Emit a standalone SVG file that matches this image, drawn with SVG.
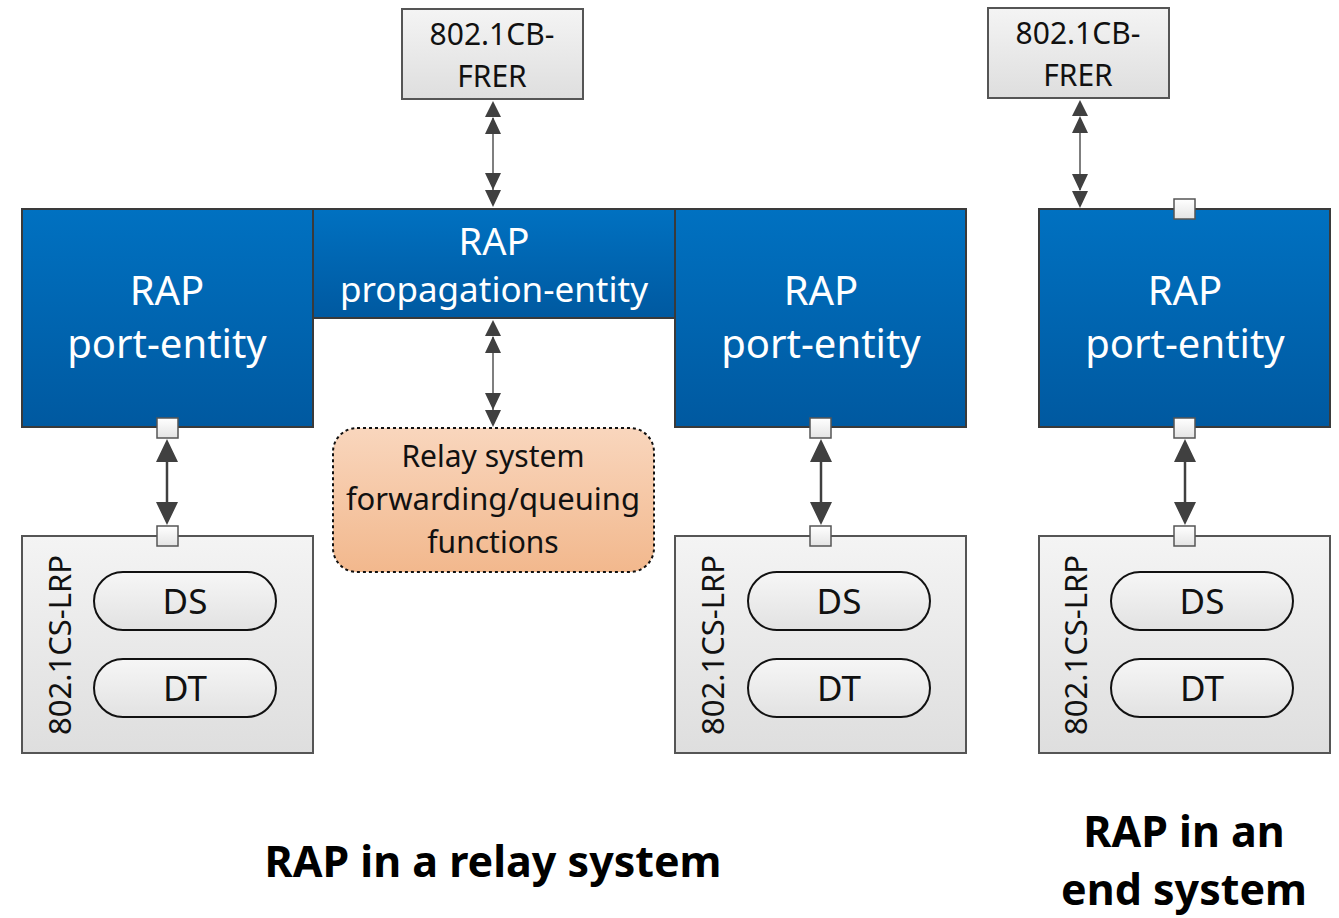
<svg xmlns="http://www.w3.org/2000/svg" width="1339" height="918" viewBox="0 0 1339 918">
<defs>
<linearGradient id="blue" x1="0" y1="0" x2="0" y2="1"><stop offset="0" stop-color="#0071c1"/><stop offset="1" stop-color="#0059a0"/></linearGradient>
<linearGradient id="gray" x1="0" y1="0" x2="0" y2="1"><stop offset="0" stop-color="#f4f4f4"/><stop offset="1" stop-color="#dedede"/></linearGradient>
<linearGradient id="pill" x1="0" y1="0" x2="0" y2="1"><stop offset="0" stop-color="#f6f6f6"/><stop offset="1" stop-color="#e2e2e2"/></linearGradient>
<linearGradient id="peach" x1="0" y1="0" x2="0" y2="1"><stop offset="0" stop-color="#f9d6bd"/><stop offset="1" stop-color="#f2b88d"/></linearGradient>
<linearGradient id="port" x1="0" y1="0" x2="0" y2="1"><stop offset="0" stop-color="#ffffff"/><stop offset="1" stop-color="#e4e4e4"/></linearGradient>
</defs>
<style>
.blue{fill:url(#blue);stroke:#3a3a3a;stroke-width:2}
.gbox{fill:url(#gray);stroke:#555;stroke-width:2}
.pill{fill:url(#pill);stroke:#111;stroke-width:2}
.port{fill:url(#port);stroke:#555;stroke-width:1.5}
.wt{font-family:"Noto Sans",sans-serif;fill:#fff;text-anchor:middle}
.bt{font-family:"Noto Sans",sans-serif;fill:#111;text-anchor:middle}
.title{font-family:"Noto Sans",sans-serif;font-weight:bold;fill:#000;text-anchor:middle;font-size:43px}
.thin{stroke:#555;stroke-width:1.5;fill:none}
.thick{stroke:#404040;stroke-width:2.5;fill:none}
.tri{fill:#404040}
</style>

<g id="frer1">
<rect x="402" y="9" width="181" height="90" class="gbox"/>
<text x="492" y="45" class="bt" font-size="30">802.1CB-</text>
<text x="492" y="87" class="bt" font-size="30">FRER</text>
</g>
<g id="frer2">
<rect x="988" y="8" width="181" height="90" class="gbox"/>
<text x="1078" y="44" class="bt" font-size="30">802.1CB-</text>
<text x="1078" y="86" class="bt" font-size="30">FRER</text>
</g>

<g id="port-left">
<rect x="22" y="209" width="291" height="218" class="blue"/>
<text x="167" y="305" class="wt" font-size="40">RAP</text>
<text x="167" y="358" class="wt" font-size="40">port-entity</text>
<rect x="157" y="418" width="21" height="20" class="port"/>
</g>
<g id="propagation">
<rect x="313" y="209" width="362" height="109" class="blue"/>
<text x="494" y="255" class="wt" font-size="38">RAP</text>
<text x="494" y="302" class="wt" font-size="35">propagation-entity</text>
</g>
<g id="port-right">
<rect x="675" y="209" width="291" height="218" class="blue"/>
<text x="821" y="305" class="wt" font-size="40">RAP</text>
<text x="821" y="358" class="wt" font-size="40">port-entity</text>
<rect x="810" y="418" width="21" height="20" class="port"/>
</g>
<g id="port-end">
<rect x="1039" y="209" width="291" height="218" class="blue"/>
<text x="1185" y="305" class="wt" font-size="40">RAP</text>
<text x="1185" y="358" class="wt" font-size="40">port-entity</text>
<rect x="1174" y="199" width="21" height="20" class="port"/>
<rect x="1174" y="418" width="21" height="20" class="port"/>
</g>

<g id="relay">
<rect x="333" y="428" width="321" height="144" rx="24" fill="url(#peach)" stroke="#111" stroke-width="2" stroke-dasharray="3,3"/>
<text x="493" y="467" class="bt" font-size="30">Relay system</text>
<text x="493" y="510" class="bt" font-size="31">forwarding/queuing</text>
<text x="493" y="553" class="bt" font-size="30">functions</text>
</g>

<g id="lrp-left">
<rect x="22" y="536" width="291" height="217" class="gbox"/>
<rect x="157" y="526" width="21" height="20" class="port"/>
<text x="71" y="645" class="bt" font-size="31" transform="rotate(-90 71 645)">802.1CS-LRP</text>
<rect x="94" y="572" width="182" height="58" rx="29" class="pill"/>
<text x="185" y="614" class="bt" font-size="35">DS</text>
<rect x="94" y="659" width="182" height="58" rx="29" class="pill"/>
<text x="185" y="701" class="bt" font-size="35">DT</text>
</g>
<g id="lrp-right">
<rect x="675" y="536" width="291" height="217" class="gbox"/>
<rect x="810" y="526" width="21" height="20" class="port"/>
<text x="724" y="645" class="bt" font-size="31" transform="rotate(-90 724 645)">802.1CS-LRP</text>
<rect x="748" y="572" width="182" height="58" rx="29" class="pill"/>
<text x="839" y="614" class="bt" font-size="35">DS</text>
<rect x="748" y="659" width="182" height="58" rx="29" class="pill"/>
<text x="839" y="701" class="bt" font-size="35">DT</text>
</g>
<g id="lrp-end">
<rect x="1039" y="536" width="291" height="217" class="gbox"/>
<rect x="1174" y="526" width="21" height="20" class="port"/>
<text x="1087" y="645" class="bt" font-size="31" transform="rotate(-90 1087 645)">802.1CS-LRP</text>
<rect x="1111" y="572" width="182" height="58" rx="29" class="pill"/>
<text x="1202" y="614" class="bt" font-size="35">DS</text>
<rect x="1111" y="659" width="182" height="58" rx="29" class="pill"/>
<text x="1202" y="701" class="bt" font-size="35">DT</text>
</g>

<g id="connectors">
<line x1="493" y1="118" x2="493" y2="190" class="thin"/>
<path class="tri" d="M493,101 L501,117 L485,117 z M493,117 L501,134 L485,134 z M493,207 L501,190 L485,190 z M493,190 L501,173 L485,173 z"/>
<line x1="493" y1="337" x2="493" y2="410" class="thin"/>
<path class="tri" d="M493,320 L501,336 L485,336 z M493,336 L501,353 L485,353 z M493,427 L501,410 L485,410 z M493,410 L501,393 L485,393 z"/>
<line x1="1080" y1="118" x2="1080" y2="190" class="thin"/>
<path class="tri" d="M1080,100 L1088,116 L1072,116 z M1080,116 L1088,133 L1072,133 z M1080,208 L1088,191 L1072,191 z M1080,191 L1088,174 L1072,174 z"/>
<line x1="167" y1="458" x2="167" y2="506" class="thick"/>
<path class="tri" d="M167,439 L178,462 L156,462 z M167,525 L178,502 L156,502 z"/>
<line x1="821" y1="458" x2="821" y2="506" class="thick"/>
<path class="tri" d="M821,439 L832,462 L810,462 z M821,525 L832,502 L810,502 z"/>
<line x1="1185" y1="458" x2="1185" y2="506" class="thick"/>
<path class="tri" d="M1185,439 L1196,462 L1174,462 z M1185,525 L1196,502 L1174,502 z"/>
</g>

<g id="labels">
<text x="493" y="877" class="title">RAP in a relay system</text>
<text x="1184" y="847" class="title">RAP in an</text>
<text x="1184" y="905" class="title">end system</text>
</g>
</svg>
